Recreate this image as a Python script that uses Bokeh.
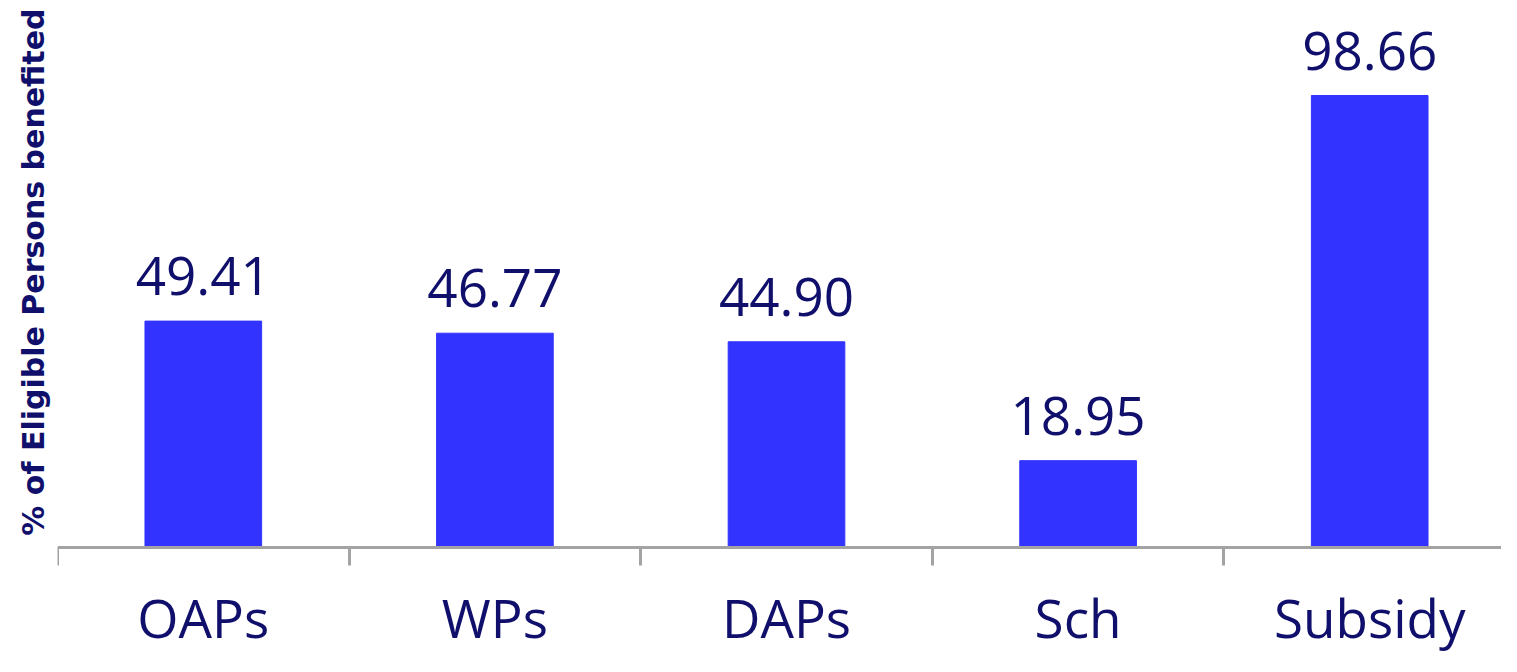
from bokeh.plotting import figure
from bokeh.models import FixedTicker, ColumnDataSource, Range1d, Title
from bokeh.core.properties import value
from bokeh.embed import file_html
from bokeh.resources import INLINE

categories = ["OAPs", "WPs", "DAPs", "Sch", "Subsidy"]
values = [49.41, 46.77, 44.90, 18.95, 98.66]
value_labels = ["49.41", "46.77", "44.90", "18.95", "98.66"]
y_title = "% of Eligible Persons benefited"

xs = list(range(1, len(categories) + 1))
src = ColumnDataSource(dict(x=xs, top=values, lab=value_labels))

NAVY = "#10106c"
p = figure(width=1501, height=656, output_backend="svg", toolbar_location=None,
           x_range=Range1d(0.5, 5.452), y_range=Range1d(-23.8, 119.4),
           y_axis_location=None,
           min_border_left=57, min_border_right=0, min_border_top=0, min_border_bottom=0)
p.outline_line_color = None
p.grid.visible = False

p.vbar(x="x", top="top", width=0.4, bottom=0, source=src, color="#3333ff")
p.text(x="x", y="top", text="lab", source=src, text_align="center",
       text_baseline="alphabetic", y_offset=-45, text_color=NAVY,
       text_font=value("Open Sans"), text_font_size="53px")

xa = p.xaxis[0]
xa.fixed_location = 0
xa.ticker = FixedTicker(ticks=xs, minor_ticks=[i + 0.5 for i in range(0, len(categories) + 1)])
xa.major_label_overrides = {x: c for x, c in zip(xs, categories)}
xa.major_tick_out = 0
xa.major_tick_in = 0
xa.minor_tick_out = 18
xa.minor_tick_in = 0
xa.minor_tick_line_color = "#a3a3a3"
xa.minor_tick_line_width = 3
xa.axis_line_color = "#a3a3a3"
xa.axis_line_width = 3
xa.major_label_text_font = "Open Sans"
xa.major_label_text_font_size = "53px"
xa.major_label_text_color = NAVY
xa.major_label_standoff = 16

t = Title(text=y_title, align="right", offset=8, text_font="DejaVu Sans",
          text_font_style="bold", text_font_size="30px", text_color=NAVY, standoff=14)
p.add_layout(t, "left")

open("out.html", "w").write(file_html(p, INLINE))
